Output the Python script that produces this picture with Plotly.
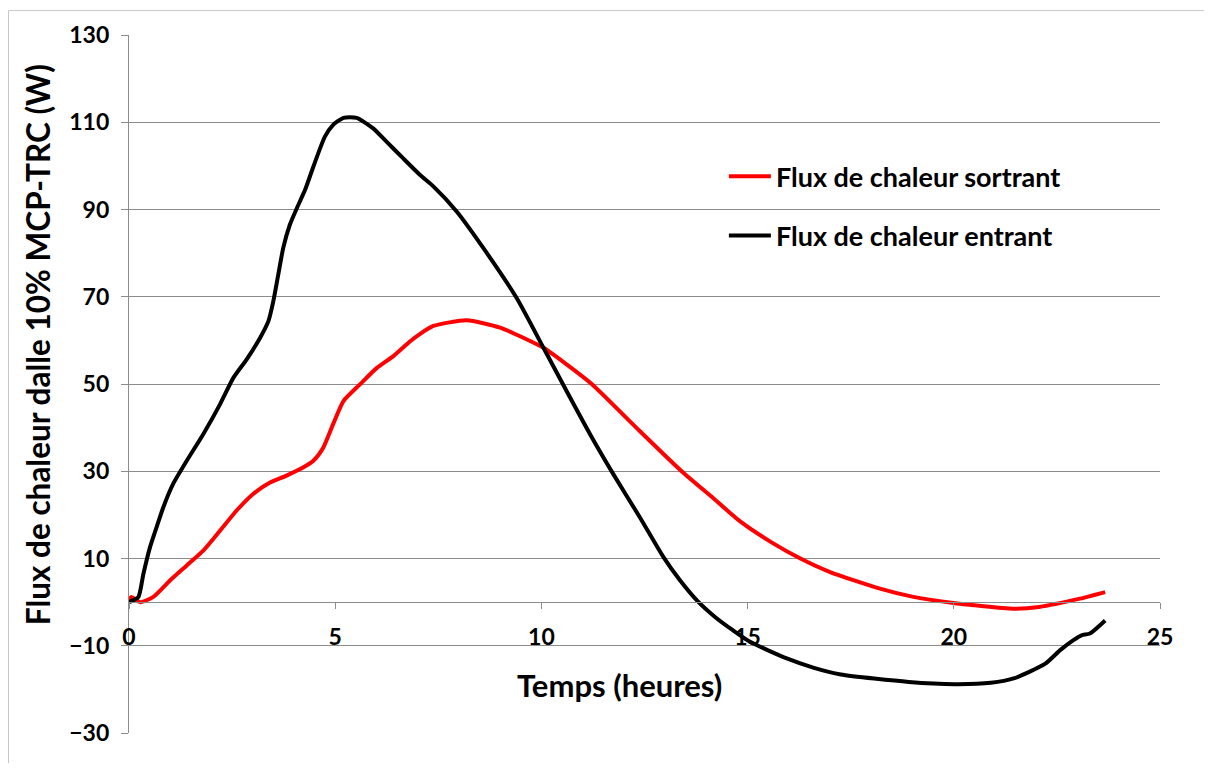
import plotly.graph_objects as go

# Time (hours) and heat flux (W) for each series
t_sortant = [0.0, 0.06, 0.27, 0.59, 1.0, 1.4, 1.8, 2.21, 2.61, 3.01, 3.42, 3.82, 4.23, 4.47,
             4.71, 4.95, 5.2, 5.6, 6.01, 6.41, 6.82, 7.06, 7.38, 8.19, 9.0, 10.05, 10.61,
             11.22, 12.3, 13.4, 14.17, 14.82, 15.58, 16.28, 17.0, 18.21, 19.02,
             19.99, 21.44, 22.07, 23.06, 23.67]
flux_sortant = [0.5, 1.2, 0.0, 1.2, 5.0, 8.4, 11.8, 16.4, 21.0, 24.8, 27.4, 29.0, 30.9, 32.4,
                35.4, 40.8, 46.1, 49.9, 53.7, 56.4, 59.8, 61.5, 63.3, 64.6, 62.9, 58.3, 54.5,
                50.0, 40.0, 30.0, 23.8, 18.5, 13.7, 10.0, 6.9, 3.1, 1.2,
                -0.2, -1.5, -1.1, 0.8, 2.3]

t_entrant = [0.0, 0.1, 0.23, 0.35, 0.51, 0.67, 0.83, 1.07, 1.4, 1.8, 2.21, 2.53, 2.85, 3.18,
             3.38, 3.5, 3.62, 3.74, 3.9, 4.07, 4.27, 4.47, 4.75, 4.95, 5.2, 5.52, 5.92, 6.25,
             6.65, 7.06, 7.38, 7.95, 8.59, 9.4, 10.05, 10.61, 11.18, 11.74, 12.39, 12.96,
             13.36, 13.77, 14.21, 14.65, 15.06, 15.95, 16.59, 17.26, 18.91, 20.02, 20.9, 21.45,
             22.22, 22.58, 22.9, 23.1, 23.3, 23.67]
flux_entrant = [0.0, 0.4, 1.2, 6.5, 12.6, 17.2, 21.7, 27.1, 32.4, 38.5, 45.4, 51.4, 55.6, 60.6,
                64.4, 69.0, 75.1, 81.2, 86.5, 90.3, 94.5, 99.8, 106.7, 109.4, 111.0, 111.0,
                108.6, 105.5, 101.7, 97.9, 95.3, 89.5, 81.2, 69.7, 58.3, 48.4, 38.5, 29.4,
                19.4, 10.3, 5.0, 0.4, -3.4, -6.5, -9.1, -12.9, -15.0, -16.6, -18.3, -18.8,
                -18.5, -17.5, -14.1, -11.0, -8.7, -7.6, -7.2, -4.2]

y_ticks = [-30, -10, 10, 30, 50, 70, 90, 110, 130]
x_ticks = [0, 5, 10, 15, 20, 25]

FONT = "Lato"
GRID = "#8c8c8c"

fig = go.Figure()
fig.add_trace(go.Scatter(x=t_sortant, y=flux_sortant, mode="lines", name="Flux de chaleur sortrant",
                         line=dict(color="#ff0000", width=4, shape="spline", smoothing=0.6),
                         legendgroup="a"))
fig.add_trace(go.Scatter(x=t_entrant, y=flux_entrant, mode="lines", name="Flux de chaleur entrant",
                         line=dict(color="#000000", width=4, shape="spline", smoothing=0.6),
                         legendgroup="b"))

fig.update_layout(
    width=1196, height=755,
    margin=dict(l=121, r=44, t=25, b=30),
    paper_bgcolor="white", plot_bgcolor="white",
    font=dict(family=FONT, color="black"),
    showlegend=True,
    legend=dict(x=0.577, y=0.832, xanchor="left", yanchor="top",
                font=dict(family=FONT, size=27, color="black", weight="bold"),
                tracegroupgap=21, itemwidth=42, bgcolor="rgba(0,0,0,0)"),
    xaxis=dict(range=[0, 25], tickvals=x_ticks, showgrid=False, zeroline=False,
               showline=True, linecolor=GRID, linewidth=1.3,
               anchor="free", position=30 / 160,
               ticks="outside", ticklen=6, tickcolor=GRID, tickwidth=1.3,
               ticklabelstandoff=8,
               tickfont=dict(family=FONT, size=23, color="black", weight="bold")),
    yaxis=dict(range=[-30, 130], tickvals=y_ticks, showgrid=True, gridcolor=GRID, gridwidth=1.3,
               zeroline=False, showline=True, linecolor=GRID, linewidth=1.3,
               ticks="outside", ticklen=7, tickcolor=GRID, tickwidth=1.3,
               ticklabelstandoff=7,
               tickfont=dict(family=FONT, size=23, color="black", weight="bold")),
    annotations=[
        dict(text="Temps (heures)", xref="paper", yref="paper", x=0.476, y=0.0686,
             xanchor="center", yanchor="middle", showarrow=False,
             font=dict(family=FONT, size=31, color="black", weight="bold")),
        dict(text="Flux de chaleur dalle 10% MCP-TRC (W)", xref="paper", yref="paper",
             x=-0.088, y=0.556, xanchor="center", yanchor="middle", textangle=-90,
             showarrow=False, font=dict(family=FONT, size=31.5, color="black", weight="bold")),
    ],
    shapes=[
        dict(type="rect", xref="paper", yref="paper", x0=-120.5 / 1031, y0=-0.3,
             x1=1.3, y1=1 + 24.5 / 700,
             line=dict(color="#c8c8c8", width=1), layer="below"),
    ],
)

fig.write_html("out.html")
